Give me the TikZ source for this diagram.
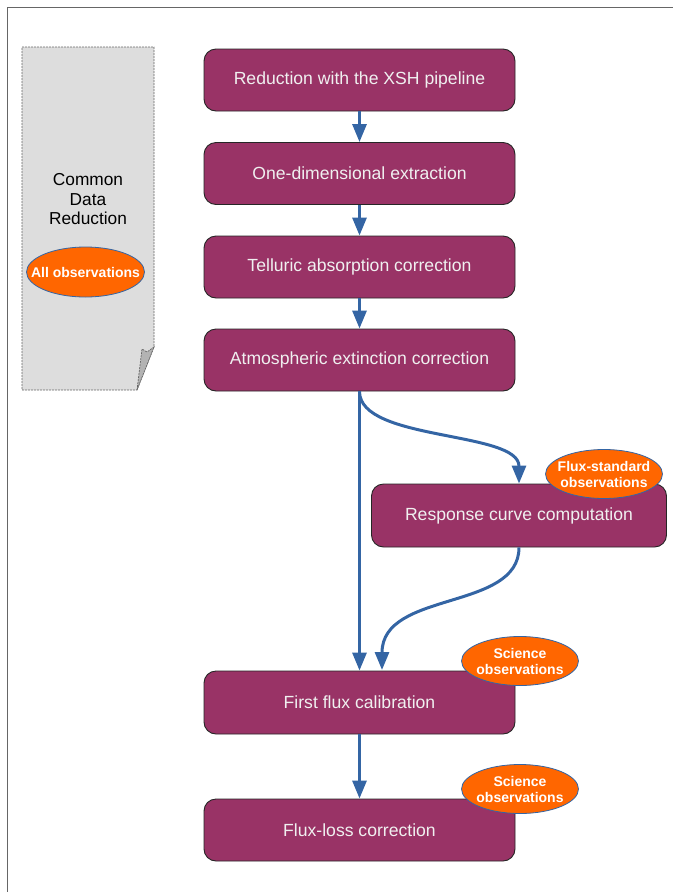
\documentclass[tikz,border=0pt]{standalone}
\usepackage{fontspec}
\setmainfont{Liberation Sans}
\usetikzlibrary{arrows.meta,shapes.geometric}
\definecolor{boxfill}{HTML}{993366}
\definecolor{arrblue}{HTML}{3465A4}
\definecolor{orng}{HTML}{FF6600}
\definecolor{notegray}{HTML}{DDDDDD}
\definecolor{foldgray}{HTML}{B3B3B3}
\tikzset{
  stepbox/.style={draw=black!85, line width=0.9pt, fill=boxfill, rounded corners=12pt,
    minimum width=311pt, minimum height=62pt, inner sep=0pt, text=white!94!black,
    font=\fontsize{17.6}{20}\selectfont},
  obs/.style={ellipse, draw=arrblue, line width=0.8pt, fill=orng, inner sep=0pt,
    minimum width=117pt, minimum height=49pt},
  obstext/.style={text=white, align=center, inner sep=0pt,
    font=\fontsize{14}{16}\selectfont\bfseries},
  arr/.style={draw=arrblue, line width=3pt, -{Triangle[width=14pt,length=18pt]}},
}
\begin{document}
\begin{tikzpicture}[x=1pt,y=-1pt]
\useasboundingbox (0,0) rectangle (673,892);
% frame
\draw[gray!80!black, line width=1pt] (7,892) -- (7,7.5) -- (673,7.5);
% note shape
\draw[fill=notegray, draw=black!60, dashed, dash pattern=on 2pt off 1pt, line width=0.7pt]
  (22,47) -- (154,47) -- (154,347) -- (137,390) -- (22,390) -- cycle;
\draw[fill=foldgray, draw=black!60, dashed, dash pattern=on 2pt off 1pt, line width=0.7pt]
  (137,390) -- (142,349) -- (147,352) -- (154,347) -- cycle;
\node[align=center, font=\fontsize{17.3}{19.5}\selectfont] (cdr) at (88,199.5) {Common\\Data\\Reduction};
\node[obs, minimum width=118pt, minimum height=50pt] (allobs) at (85.5,272) {};
\node[obstext] (allobst) at (allobs) {All observations};
% boxes
\node[stepbox] (b1) at (359.5,80) {Reduction with the XSH pipeline};
\node[stepbox] (b2) at (359.5,173.5) {One-dimensional extraction};
\node[stepbox] (b3) at (359.5,267) {Telluric absorption correction};
\node[stepbox] (b4) at (359.5,360) {Atmospheric extinction correction};
\node[stepbox, minimum width=295pt, minimum height=63pt] (resp) at (519,515.5) {Response curve computation};
\node[stepbox, minimum height=63pt] (ff) at (359.5,702.5) {First flux calibration};
\node[stepbox] (fl) at (359.5,830) {Flux-loss correction};
\coordinate (ffin) at (382,670);
% arrows
\draw[arr] (b1.south) -- (b2.north);
\draw[arr] (b2.south) -- (b3.north);
\draw[arr] (b3.south) -- (b4.north);
\draw[arr] (b4.south) -- (ff.north);
\draw[arr] (b4.south) .. controls +(0,50) and +(0,-53) .. (resp.north);
\draw[arr] (resp.south) .. controls +(0,64) and +(0,-80) .. (ffin);
\draw[arr] (ff.south) -- (fl.north);
% ellipses
\node[obs] (fso) at (604,474) {};
\node[obstext] (fsot) at (fso) {Flux-standard\\observations};
\node[obs] (sci1) at (520,661) {};
\node[obstext] (sci1t) at (sci1) {Science\\observations};
\node[obs] (sci2) at (520,789) {};
\node[obstext] (sci2t) at (sci2) {Science\\observations};
\end{tikzpicture}
\end{document}
